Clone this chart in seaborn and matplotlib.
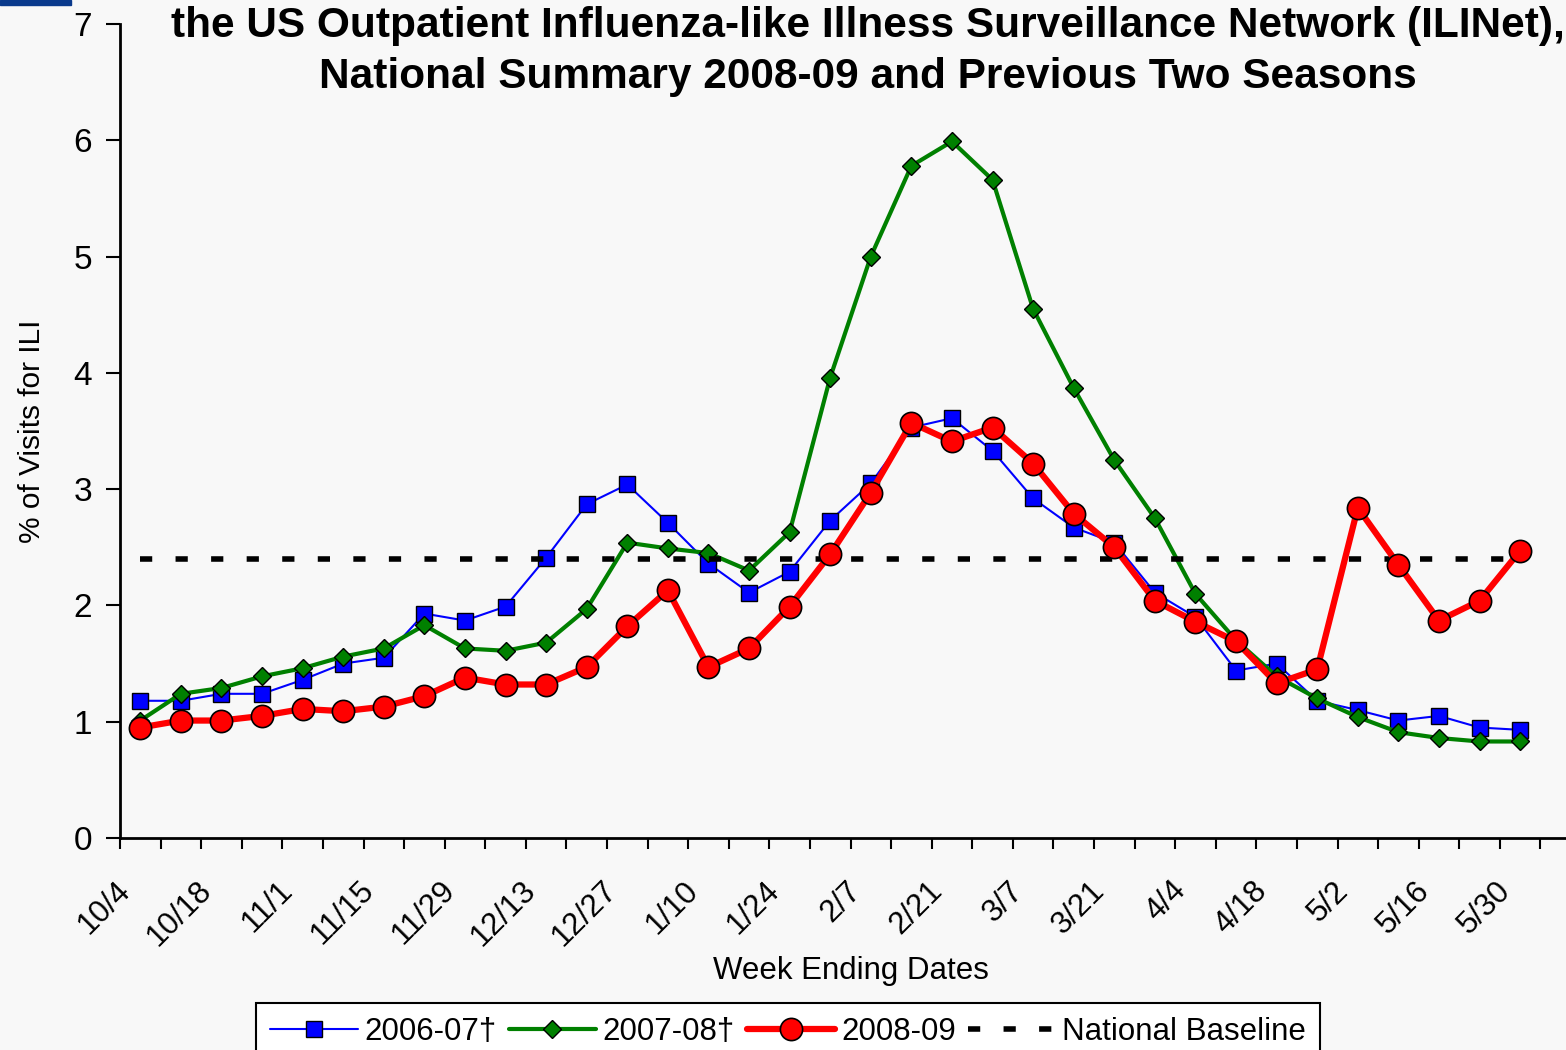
import matplotlib
matplotlib.use('Agg')
import matplotlib.pyplot as plt
import matplotlib.patches as mpatches
import matplotlib.transforms as mtransforms
import numpy as np
import pandas as pd
import seaborn as sns

weeks = ['10/4', '10/11', '10/18', '10/25', '11/1', '11/8', '11/15', '11/22', '11/29',
         '12/6', '12/13', '12/20', '12/27', '1/3', '1/10', '1/17', '1/24', '1/31',
         '2/7', '2/14', '2/21', '2/28', '3/7', '3/14', '3/21', '3/28', '4/4', '4/11',
         '4/18', '4/25', '5/2', '5/9', '5/16', '5/23', '5/30']

season_0607 = [1.18, 1.18, 1.24, 1.24, 1.36, 1.50, 1.55, 1.93, 1.87, 1.99, 2.41, 2.87,
               3.04, 2.71, 2.36, 2.11, 2.29, 2.73, 3.05, 3.53, 3.61, 3.33, 2.92, 2.67,
               2.54, 2.11, 1.90, 1.44, 1.50, 1.18, 1.10, 1.01, 1.05, 0.95, 0.93]
season_0708 = [1.01, 1.24, 1.29, 1.39, 1.46, 1.56, 1.63, 1.83, 1.63, 1.61, 1.68, 1.97,
               2.54, 2.49, 2.45, 2.30, 2.63, 3.96, 5.00, 5.78, 5.99, 5.66, 4.55, 3.87,
               3.25, 2.75, 2.10, 1.70, 1.39, 1.20, 1.04, 0.91, 0.86, 0.83, 0.83]
season_0809 = [0.95, 1.01, 1.01, 1.05, 1.11, 1.09, 1.13, 1.22, 1.38, 1.32, 1.32, 1.47,
               1.82, 2.13, 1.47, 1.63, 1.99, 2.44, 2.97, 3.57, 3.41, 3.53, 3.22, 2.79,
               2.50, 2.04, 1.86, 1.69, 1.33, 1.45, 2.84, 2.35, 1.87, 2.04, 2.47]
baseline = 2.4

n_slots = 36  # category axis has one empty slot after the last week

df = pd.DataFrame({'week': np.arange(len(weeks)),
                   '2006-07†': season_0607,
                   '2007-08†': season_0708,
                   '2008-09': season_0809,
                   'National Baseline': [baseline] * len(weeks)})

sns.set_style('white')
plt.rcParams['font.family'] = ['Liberation Sans', 'DejaVu Sans']
plt.rcParams['text.color'] = 'black'
plt.rcParams['axes.labelcolor'] = 'black'
plt.rcParams['xtick.color'] = 'black'
plt.rcParams['ytick.color'] = 'black'

bg = '#f8f8f8'
fig = plt.figure(figsize=(15.66, 10.5), dpi=100, facecolor=bg)
W, H = 1566, 1050
ax = fig.add_axes([120 / W, 1 - 838 / H, (1581 - 120) / W, (838 - 24) / H])
ax.set_facecolor(bg)

sns.lineplot(data=df, x='week', y='2006-07†', ax=ax, color='#0000ff', lw=1.5,
             marker='s', markersize=11, markeredgecolor='black', markeredgewidth=1,
             label='2006-07†', zorder=3)
sns.lineplot(data=df, x='week', y='2007-08†', ax=ax, color='#008000', lw=3,
             marker='D', markersize=9, markeredgecolor='black', markeredgewidth=1,
             label='2007-08†', zorder=4)
sns.lineplot(data=df, x='week', y='National Baseline', ax=ax, color='black', lw=4,
             dashes=False, label='National Baseline', zorder=5)
ax.lines[-1].set_dashes([2.2, 4.2])
sns.lineplot(data=df, x='week', y='2008-09', ax=ax, color='#ff0000', lw=4.5,
             marker='o', markersize=16, markeredgecolor='black', markeredgewidth=1.2,
             label='2008-09', zorder=6)

ax.set_xlim(-0.5, n_slots - 0.5)
ax.set_ylim(0, 7)
ax.set_yticks(range(0, 8))
ax.tick_params(axis='y', labelsize=24, length=10, width=1.5, direction='out', left=True, pad=10)

ax.set_xticks(np.arange(0, len(weeks), 2))
ax.set_xticklabels(weeks[::2], rotation=45, ha='right', rotation_mode='anchor', fontsize=22.5)
ax.tick_params(axis='x', which='major', length=0, pad=27)
shift = mtransforms.ScaledTranslation(-25 / 100, 0, fig.dpi_scale_trans)
for lab in ax.get_xticklabels():
    lab.set_transform(lab.get_transform() + shift)
ax.set_xticks(np.arange(-0.5, n_slots, 1), minor=True)
ax.tick_params(axis='x', which='minor', length=8, width=1.5, direction='out', bottom=True)

for s in ['top', 'right']:
    ax.spines[s].set_visible(False)
for s in ['left', 'bottom']:
    ax.spines[s].set_color('black')
    ax.spines[s].set_linewidth(2)

ax.set_xlabel('Week Ending Dates', fontsize=22.5, labelpad=3)
ax.set_ylabel('% of Visits for ILI', fontsize=21.5, labelpad=20)

fig.text(868 / W, 1 - 26 / H,
         'the US Outpatient Influenza-like Illness Surveillance Network (ILINet),',
         ha='center', va='center', fontsize=30.5, fontweight='bold')
fig.text(868 / W, 1 - 77 / H,
         'National Summary 2008-09 and Previous Two Seasons',
         ha='center', va='center', fontsize=30.5, fontweight='bold')

# blue bar in the top-left corner
fig.patches.append(mpatches.Rectangle((0, 1 - 5 / H), 71 / W, 5 / H,
                                      transform=fig.transFigure, color='#0a3a8c'))

handles, labels = ax.get_legend_handles_labels()
order = [labels.index(l) for l in ['2006-07†', '2007-08†', '2008-09', 'National Baseline']]
ax.legend([handles[i] for i in order], [labels[i] for i in order],
          loc='upper center', bbox_to_anchor=(788 / W, 1 - 1003 / H),
          bbox_transform=fig.transFigure, ncol=4, fontsize=22.5, frameon=True,
          fancybox=False, edgecolor='black', facecolor='white', framealpha=1,
          handlelength=2.8, handletextpad=0.2, columnspacing=0.4, borderpad=0.45,
          borderaxespad=0)
ax.get_legend().get_frame().set_linewidth(1.5)

fig.savefig('out.png', dpi=100, facecolor=bg)
